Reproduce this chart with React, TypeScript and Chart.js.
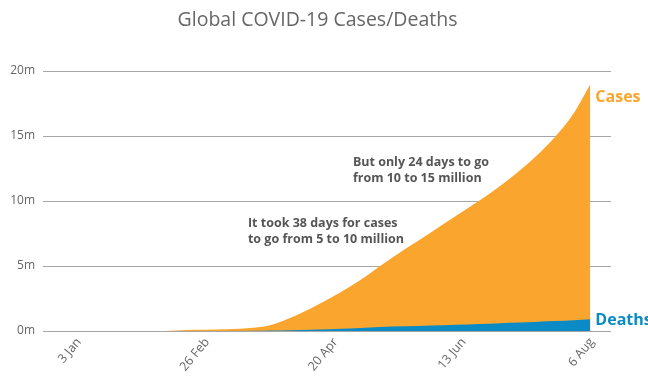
import React, { useEffect, useRef } from "react";
import { Chart, registerables } from "chart.js";

Chart.register(...registerables);

// Day index: 0 = 1 Jan 2020
const xTickDays = [2, 56, 110, 164, 218];
const xTickLabels = ["3 Jan", "26 Feb", "20 Apr", "13 Jun", "6 Aug"];

const days = [21, 40, 49, 81, 88, 97, 105, 114, 122, 130, 141, 152, 162, 172, 181, 189, 197, 204, 212, 219];
const casesM = [0, 0.003, 0.07, 0.33, 0.68, 1.37, 2.1, 3.0, 3.9, 4.95, 6.3, 7.6, 8.8, 10.0, 11.15, 12.3, 13.6, 14.9, 16.75, 19.0];
const deathsM = [0, 0, 0.002, 0.015, 0.03, 0.07, 0.12, 0.18, 0.24, 0.3, 0.36, 0.42, 0.48, 0.54, 0.6, 0.65, 0.71, 0.76, 0.82, 0.9];

const yTicksM = [0, 5, 10, 15, 20];

const titleText = "Global COVID-19 Cases/Deaths";
const seriesNames = ["Cases", "Deaths"];
const noteA = ["It took 38 days for cases", "to go from 5 to 10 million"];
const noteB = ["But only 24 days to go", "from 10 to 15 million"];

const ORANGE = "#FAA62E";
const BLUE = "#0B8BC5";
const FONT = '"Open Sans", "Noto Sans", sans-serif';

export default function App() {
  const ref = useRef<HTMLCanvasElement | null>(null);

  useEffect(() => {
    if (!ref.current) return;

    const labelsPlugin = {
      id: "labelsPlugin",
      afterDraw(chart: any) {
        const ctx = chart.ctx;
        ctx.save();
        ctx.textBaseline = "middle";
        ctx.textAlign = "center";
        ctx.font = `19.5px ${FONT}`;
        ctx.fillStyle = "#666666";
        ctx.fillText(titleText, 317.5, 20);
        ctx.restore();
      },
      afterDatasetsDraw(chart: any) {
        const ctx = chart.ctx;
        const xs = chart.scales.x;
        const ys = chart.scales.y;
        const lastDay = days[days.length - 1];
        ctx.save();
        ctx.textBaseline = "middle";
        ctx.textAlign = "left";
        ctx.font = `bold 16px ${FONT}`;
        ctx.fillStyle = ORANGE;
        ctx.fillText(seriesNames[0], xs.getPixelForValue(lastDay) + 5, ys.getPixelForValue(casesM[casesM.length - 1] * 1e6) + 13);
        ctx.fillStyle = BLUE;
        ctx.fillText(seriesNames[1], xs.getPixelForValue(lastDay) + 5, ys.getPixelForValue(deathsM[deathsM.length - 1] * 1e6) + 1);
        ctx.font = `bold 12.5px ${FONT}`;
        ctx.fillStyle = "#555555";
        const ax = xs.getPixelForValue(74.8);
        const ay = ys.getPixelForValue(8.3e6);
        noteA.forEach((t, i) => ctx.fillText(t, ax, ay + i * 16.5));
        const bx = xs.getPixelForValue(119);
        const by = ys.getPixelForValue(12.95e6);
        noteB.forEach((t, i) => ctx.fillText(t, bx, by + i * 15.5));
        ctx.restore();
      },
    };

    const chart = new Chart(ref.current, {
      type: "line",
      data: {
        datasets: [
          {
            label: seriesNames[1],
            data: days.map((d, i) => ({ x: d, y: deathsM[i] * 1e6 })),
            backgroundColor: BLUE,
            borderWidth: 0,
            pointRadius: 0,
            fill: "origin",
            cubicInterpolationMode: "monotone",
          },
          {
            label: seriesNames[0],
            data: days.map((d, i) => ({ x: d, y: casesM[i] * 1e6 })),
            backgroundColor: ORANGE,
            borderWidth: 0,
            pointRadius: 0,
            fill: "origin",
            cubicInterpolationMode: "monotone",
          },
        ],
      },
      options: {
        animation: false,
        responsive: false,
        layout: { padding: { left: 0, right: 37, top: 71, bottom: 0 } },
        plugins: {
          legend: { display: false },
          tooltip: { enabled: false },
          title: { display: false },
        },
        scales: {
          x: {
            type: "linear",
            min: -11.5,
            max: 227.7,
            grid: { display: false, drawTicks: false },
            border: { display: false },
            afterBuildTicks: (scale: any) => {
              scale.ticks = xTickDays.map((v) => ({ value: v }));
            },
            afterFit: (scale: any) => {
              scale.height = 48;
            },
            ticks: {
              autoSkip: false,
              minRotation: 50,
              maxRotation: 50,
              padding: 4,
              labelOffset: 4,
              color: "#666666",
              font: { family: FONT, size: 12.5 },
              callback: (v: any) => {
                const i = xTickDays.indexOf(Number(v));
                return i >= 0 ? xTickLabels[i] : "";
              },
            },
          },
          y: {
            min: 0,
            max: 20e6,
            grid: { color: "#a6a6a6", lineWidth: 1, drawTicks: false },
            border: { display: false },
            afterBuildTicks: (scale: any) => {
              scale.ticks = yTicksM.map((v) => ({ value: v * 1e6 }));
            },
            afterFit: (scale: any) => {
              scale.width = 43;
            },
            ticks: {
              padding: 8,
              color: "#666666",
              font: { family: FONT, size: 12 },
              callback: (v: any) => `${Number(v) / 1e6}m`,
            },
          },
        },
      },
      plugins: [labelsPlugin],
    });
    return () => chart.destroy();
  }, []);

  return (
    <div style={{ position: "fixed", left: 0, top: 0, width: 648, height: 379, background: "#fff" }}>
      <canvas ref={ref} width={648} height={379} style={{ width: 648, height: 379 }} />
    </div>
  );
}
